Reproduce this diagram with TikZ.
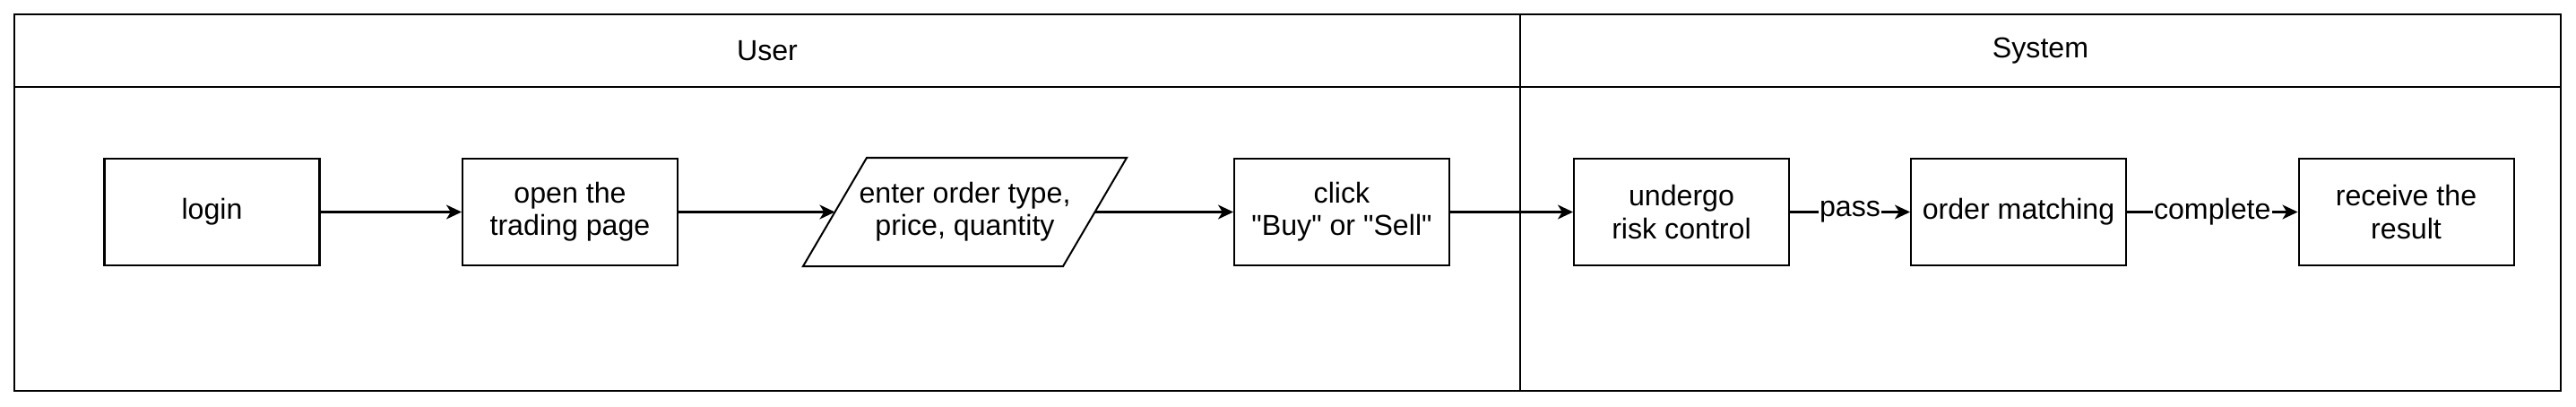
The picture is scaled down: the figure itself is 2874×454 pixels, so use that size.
\documentclass[tikz,border=0pt]{standalone}
\usepackage{fontspec}
\setmainfont{Liberation Sans}[Ligatures=TeXOff]
\usepackage{tikz}
\usetikzlibrary{arrows.meta}

\tikzset{
	stepbox/.style = {draw, line width=1pt, minimum width=119.4pt, minimum height=59.2pt,
		align=center, font=\fontsize{16}{18}\selectfont},
	inputbox/.style = {stepbox, draw=none, minimum width=143.3pt},
	lanetitle/.style = {font=\fontsize{16}{18}\selectfont},
	flow/.style = {line width=1pt, -{Stealth[length=8.5pt, width=8pt, inset=2.5pt]}},
	flowlabel/.style = {fill=white, inner sep=0.5pt, font=\fontsize{16}{18}\selectfont}
}

\begin{document}
\begin{tikzpicture}[x=0.4975pt, y=-0.4975pt]
			\useasboundingbox (0, 0) rectangle (2874, 454);
			% swimlanes
			\begin{scope}[line width=1pt]
				\draw (16, 16) rectangle (2857, 436);
				\draw (16, 97) -- (2857, 97);
				\draw (1696, 16) -- (1696, 436);
			\end{scope}
			\node[lanetitle] (user) at (856, 56.5) {User};
			\node[lanetitle] (system) at (2276.5, 56.5) {System};
			% part for User
			\node[stepbox] (login) at (236.5, 236.5) {login};
			\node[stepbox] (open) at (636, 236.5) {open the\\trading page};
			\node[inputbox] (enter) at (1076.5, 236.5) {enter order type,\\price, quantity};
			\draw[line width=1pt]
				([xshift=17.66pt]enter.north west) -- ([xshift=17.66pt]enter.north east) --
				([xshift=-17.66pt]enter.south east) -- ([xshift=-17.66pt]enter.south west) -- cycle;
			\node[stepbox] (click) at (1497, 236.5) {click\\"Buy" or "Sell"};
			% part for System
			\node[stepbox] (risk) at (1876, 236.5) {undergo\\risk control};
			\node[stepbox] (match) at (2252, 236.5) {order matching};
			\node[stepbox] (result) at (2684.5, 236.5) {receive the\\result};
			% arrows
			\draw[flow] (login) -- (open);
			\draw[flow] (open) -- (enter);
			\draw[flow] (enter) -- (click);
			\draw[flow] (click) -- (risk);
			\draw[flow] (risk) -- node[flowlabel] {pass} (match);
			\draw[flow] (match) -- node[flowlabel] {complete} (result);
		\end{tikzpicture}
\end{document}
